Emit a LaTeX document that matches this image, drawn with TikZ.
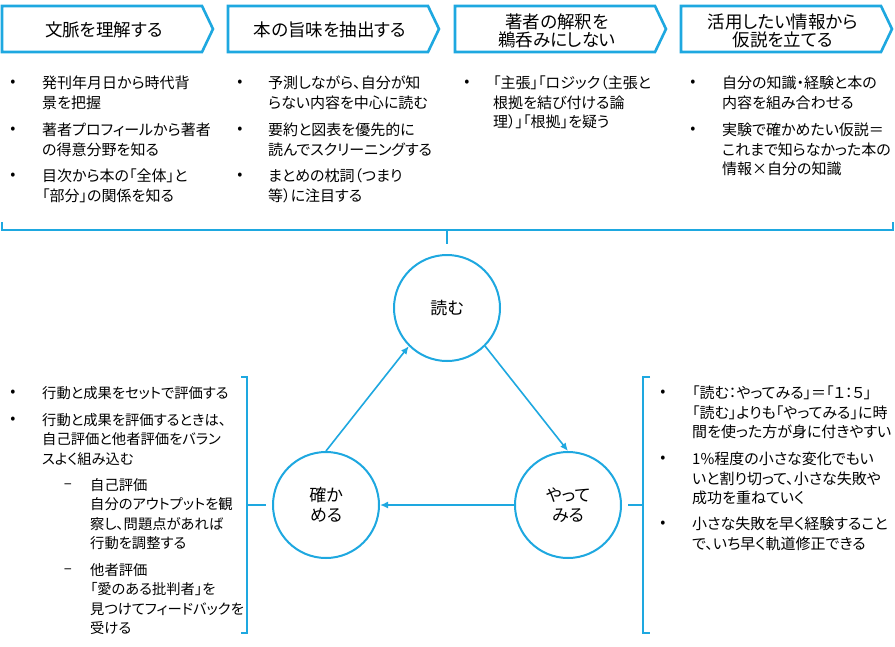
\documentclass[tikz,border=0pt]{standalone}
\usepackage{fontspec}
\setmainfont{Noto Sans CJK JP}[RawFeature=+palt]
\usetikzlibrary{arrows.meta}
\definecolor{cyanline}{RGB}{30,168,224}
\newcommand\firststrut{\rule{0pt}{1em}}
\begin{document}
\begin{tikzpicture}[x=1pt,y=-1pt,
  chev/.style={draw=cyanline, line width=2.6pt},
  ctext/.style={align=center, inner sep=0, font=\fontsize{17.5}{18.5}\selectfont},
  btext/.style={anchor=north west, align=left, inner sep=0, font=\fontsize{15}{19.2}\selectfont},
  ltext/.style={btext, font=\fontsize{15}{19.3}\selectfont},
  lltext/.style={btext, font=\fontsize{14.3}{19.3}\selectfont},
  bul/.style={inner sep=0, font=\fontsize{15}{19}\selectfont},
  cyc/.style={circle, draw=cyanline, line width=2pt, minimum size=106pt, inner sep=0, align=center, font=\fontsize{17}{20}\selectfont},
  arr/.style={draw=cyanline, line width=1.6pt, -{Latex[length=8pt,width=7pt]}},
  brk/.style={draw=cyanline, line width=2pt}]
\useasboundingbox (0,0) rectangle (895,646);
\fill[white] (0,0) rectangle (895,646);

% chevrons
\foreach \L in {2,228,455,681}{
  \draw[chev] (\L,6) -- (\L+200,6) -- (\L+211,29) -- (\L+200,52) -- (\L,52) -- cycle;
}
\node[ctext] (c1) at (104,30) {文脈を理解する};
\node[ctext] (c2) at (330,30) {本の旨味を抽出する};
\node[ctext] (c3) at (557,31) {著者の解釈を\\鵜呑みにしない};
\node[ctext] (c4) at (783,31) {活用したい情報から\\仮説を立てる};

% column 1
\node[bul] (p11) at (13,83) {•};
\node[btext] (t11) at (42,73.7) {\firststrut 発刊年月日から時代背\\景を把握};
\node[bul] (p12) at (13,130) {•};
\node[btext] (t12) at (42,120.7) {\firststrut 著者プロフィールから著者\\の得意分野を知る};
\node[bul] (p13) at (13,176) {•};
\node[btext] (t13) at (42,166.7) {\firststrut 目次から本の「全体」と\\「部分」の関係を知る};
% column 2
\node[bul] (p21) at (240,83) {•};
\node[btext] (t21) at (268,73.7) {\firststrut 予測しながら、自分が知\\らない内容を中心に読む};
\node[bul] (p22) at (240,130) {•};
\node[btext] (t22) at (268,120.7) {\firststrut 要約と図表を優先的に\\読んでスクリーニングする};
\node[bul] (p23) at (240,176) {•};
\node[btext] (t23) at (268,166.7) {\firststrut まとめの枕詞（つまり\\等）に注目する};
% column 3
\node[bul] (p31) at (467,83) {•};
\node[btext] (t31) at (493,73.7) {\firststrut 「主張」「ロジック（主張と\\根拠を結び付ける論\\理）」「根拠」を疑う};
% column 4
\node[bul] (p41) at (693,83) {•};
\node[btext] (t41) at (722,73.7) {\firststrut 自分の知識・経験と本の\\内容を組み合わせる};
\node[bul] (p42) at (693,130) {•};
\node[btext] (t42) at (722,120.7) {\firststrut 実験で確かめたい仮説＝\\これまで知らなかった本の\\情報×自分の知識};

% top brace
\draw[brk] (2,222) -- (2,229.5) -- (893,229.5) -- (893,222);
\coordinate (bt) at (447,229.5);
\coordinate (bb) at (447,244);
\draw[brk] (bt) -- (bb);

% cycle
\node[cyc] (yomu) at (447,308) {読む};
\node[cyc] (kak) at (326,505) {確か\\める};
\node[cyc] (yatte) at (568,505) {やって\\みる};
\draw[arr] (kak.north) -- (yomu.225);
\draw[arr] (yomu.-45) -- (yatte.north);
\draw[arr] (yatte.west) -- (kak.east);

% left bracket
\draw[brk] (241,377) -- (247,377) -- (247,633) -- (241,633);
\coordinate (lt1) at (247,505);
\coordinate (lt2) at (266,505);
\draw[brk] (lt1) -- (lt2);
% right bracket
\draw[brk] (650,377) -- (643,377) -- (643,633) -- (650,633);
\coordinate (rt1) at (643,505);
\coordinate (rt2) at (628,505);
\draw[brk] (rt1) -- (rt2);

% left text
\node[bul] (lp1) at (13,393) {•};
\node[lltext] (lt11) at (42,384) {\firststrut 行動と成果をセットで評価する};
\node[bul] (lp2) at (13,420) {•};
\node[lltext] (lt12) at (42,411) {\firststrut 行動と成果を評価するときは、\\自己評価と他者評価をバラン\\スよく組み込む};
\node[bul] (ld1) at (68,486) {–};
\node[lltext] (lt13) at (90,476) {\firststrut 自己評価\\自分のアウトプットを観\\察し、問題点があれば\\行動を調整する};
\node[bul] (ld2) at (68,571) {–};
\node[lltext] (lt14) at (90,561) {\firststrut 他者評価\\「愛のある批判者」を\\見つけてフィードバックを\\受ける};

% right text
\node[bul] (rp1) at (663,393) {•};
\node[ltext] (rt11) at (692,383.7) {\firststrut 「読む：やってみる」＝「１：５」\\「読む」よりも「やってみる」に時\\間を使った方が身に付きやすい};
\node[bul] (rp2) at (663,459) {•};
\node[ltext] (rt12) at (692,449.7) {\firststrut 1\%程度の小さな変化でもい\\いと割り切って、小さな失敗や\\成功を重ねていく};
\node[bul] (rp3) at (663,524) {•};
\node[ltext] (rt13) at (692,514.7) {\firststrut 小さな失敗を早く経験すること\\で、いち早く軌道修正できる};
\end{tikzpicture}
\end{document}
